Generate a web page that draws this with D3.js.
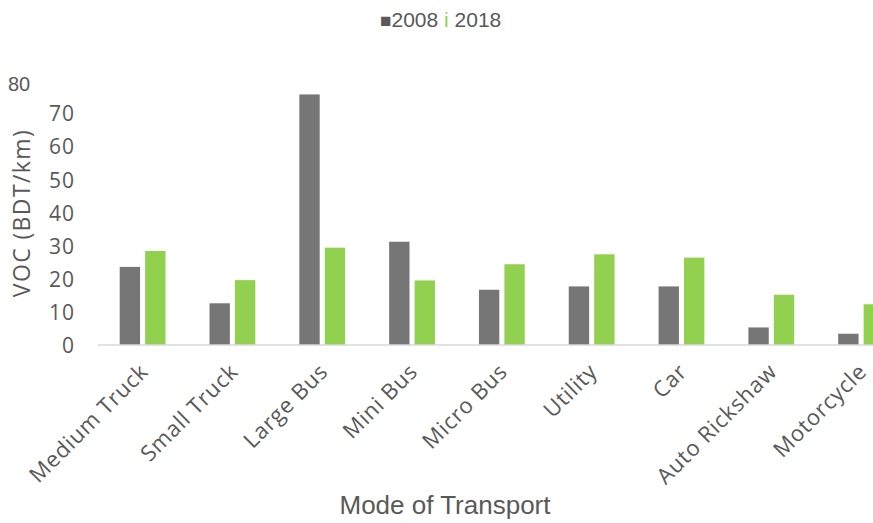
<!DOCTYPE html>
<html>
<head>
<meta charset="utf-8">
<script src="https://cdn.jsdelivr.net/npm/d3@7"></script>
<style>
  html, body { margin: 0; padding: 0; background: #fff; }
  svg { display: block; }
</style>
</head>
<body>
<svg id="chart" width="873" height="523"></svg>
<script>
// Vehicle operating cost by mode of transport, 2008 vs 2018
const categories = ["Medium Truck", "Small Truck", "Large Bus", "Mini Bus", "Micro Bus",
                    "Utility", "Car", "Auto Rickshaw", "Motorcycle"];
const seriesNames = ["2008", "2018"];
const values2008 = [23.6, 12.6, 75.7, 31.2, 16.7, 17.7, 17.7, 5.3, 3.4];
const values2018 = [28.4, 19.6, 29.4, 19.5, 24.4, 27.4, 26.4, 15.2, 12.3];
const yTicks = [0, 10, 20, 30, 40, 50, 60, 70, 80];
const seriesColors = ["#767676", "#92d050"];

const svg = d3.select("#chart");

const plotLeft = 97.7, plotRight = 906, baseY = 345, topY = 80.2;

const x0 = d3.scaleBand()
  .domain(categories)
  .range([plotLeft, plotRight])
  .paddingInner(0.49)
  .paddingOuter(0.245);

const x1 = d3.scaleBand()
  .domain(seriesNames)
  .range([0, x0.bandwidth()])
  .paddingInner(0.2);

const y = d3.scaleLinear().domain([0, 80]).range([baseY, topY]);

const rows = categories.map((c, i) => ({ cat: c, vals: [values2008[i], values2018[i]] }));

// bars
const groups = svg.append("g").selectAll("g")
  .data(rows).join("g")
  .attr("transform", d => `translate(${x0(d.cat)},0)`);

groups.selectAll("rect")
  .data(d => d.vals.map((v, k) => ({ key: seriesNames[k], v, k })))
  .join("rect")
  .attr("x", d => x1(d.key))
  .attr("width", x1.bandwidth())
  .attr("y", d => y(d.v))
  .attr("height", d => y(0) - y(d.v))
  .attr("fill", d => seriesColors[d.k]);

// category axis line
svg.append("line")
  .attr("x1", plotLeft).attr("x2", plotRight)
  .attr("y1", y(0)).attr("y2", y(0))
  .attr("stroke", "#d9d9d9").attr("stroke-width", 1.5);

// value axis labels
const yAxis = d3.axisLeft(y).tickValues(yTicks.filter(t => t < 80)).tickSize(0).tickPadding(0);
const yg = svg.append("g").attr("transform", "translate(75,0)").call(yAxis);
yg.select(".domain").remove();
yg.selectAll("text")
  .attr("font-family", "'Open Sans', sans-serif")
  .attr("font-size", 21)
  .attr("letter-spacing", 1)
  .attr("fill", "#595959")
  .attr("dy", "0.36em");

// top label of the value axis
svg.append("text")
  .attr("x", 8).attr("y", y(yTicks[yTicks.length - 1]) + 11)
  .attr("font-family", "'Liberation Sans', Arial, sans-serif")
  .attr("font-size", 20)
  .attr("fill", "#595959")
  .text(yTicks[yTicks.length - 1]);

// category labels
svg.append("g").selectAll("text")
  .data(categories).join("text")
  .attr("transform", d => `translate(${x0(d) + x0.bandwidth() / 2 + 7},${baseY + 28}) rotate(-45)`)
  .attr("text-anchor", "end")
  .attr("font-family", "'Open Sans', sans-serif")
  .attr("font-size", 22)
  .attr("letter-spacing", 0.8)
  .attr("fill", "#595959")
  .text(d => d);

// value axis title
svg.append("text")
  .attr("transform", `translate(30,213) rotate(-90)`)
  .attr("text-anchor", "middle")
  .attr("font-family", "'Open Sans', sans-serif")
  .attr("font-size", 23)
  .attr("letter-spacing", 1.4)
  .attr("fill", "#595959")
  .text("VOC (BDT/km)");

// category axis title
svg.append("text")
  .attr("x", 445).attr("y", 514)
  .attr("text-anchor", "middle")
  .attr("font-family", "'Liberation Sans', Arial, sans-serif")
  .attr("font-size", 26)
  .attr("fill", "#595959")
  .text("Mode of Transport");

// legend
const legend = svg.append("text")
  .attr("x", 380).attr("y", 27)
  .attr("font-family", "'Liberation Sans', Arial, sans-serif")
  .attr("font-size", 21)
  .attr("fill", "#595959");
legend.append("tspan").attr("font-size", 19).text("\u25A0");
legend.append("tspan").text(seriesNames[0]);
legend.append("tspan").attr("fill", seriesColors[1]).text(" i ");
legend.append("tspan").text(seriesNames[1]);
</script>
</body>
</html>
